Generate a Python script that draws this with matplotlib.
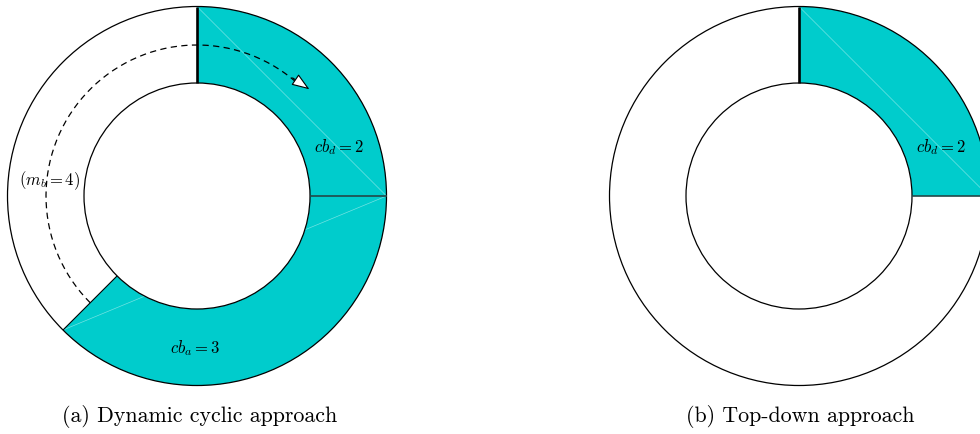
import numpy as np
import matplotlib
matplotlib.use("Agg")
import matplotlib.pyplot as plt
from matplotlib.patches import Wedge, Circle

plt.rcParams['mathtext.fontset'] = 'cm'
plt.rcParams['font.family'] = 'serif'
plt.rcParams['font.serif'] = ['cmr10', 'DejaVu Serif']
plt.rcParams['axes.formatter.use_mathtext'] = True

# ---- data ----
n_segments = 8
left_cb_d = 2
left_cb_a = 3
left_m_b = 4
right_cb_d = 2
captions = ["(a) Dynamic cyclic approach", "(b) Top-down approach"]
left_labels = [r"$cb_d = 2$", r"$cb_a = 3$", r"$(m_b = 4)$"]
right_labels = [r"$cb_d = 2$"]

TEAL = '#00cccc'
R_OUT, R_IN = 189.5, 113.0
seg = 360.0 / n_segments

fig = plt.figure(figsize=(9.8, 4.34), dpi=100)
ax = fig.add_axes([0, 0, 1, 1])
ax.set_xlim(0, 980)
ax.set_ylim(0, 434)
ax.axis('off')


def pt(c, r, a):
    t = np.deg2rad(a)
    return c[0] + r * np.cos(t), c[1] + r * np.sin(t)


def donut(c, blocks):
    # blocks: list of counts, clockwise from top
    ax.add_patch(Circle(c, R_OUT, fc='white', ec='none', zorder=0))
    start = 90.0
    bounds = [start]
    for k in blocks:
        end = start - k * seg
        w = Wedge(c, R_OUT, end, start, width=R_OUT - R_IN, fc=TEAL, ec='none', zorder=1)
        ax.add_patch(w)
        # faint seam (chord) inside filled block
        x1, y1 = pt(c, R_OUT, start)
        x2, y2 = pt(c, R_OUT, end)
        ln, = ax.plot([x1, x2], [y1, y2], color='white', lw=0.5, alpha=0.45, zorder=2)
        ln.set_clip_path(w)
        start = end
        bounds.append(end)
    ax.add_patch(Circle(c, R_OUT, fc='none', ec='black', lw=0.9, zorder=4))
    ax.add_patch(Circle(c, R_IN, fc='white', ec='black', lw=0.9, zorder=4))
    # boundary lines
    for i, b in enumerate(bounds):
        x1, y1 = pt(c, R_IN, b)
        x2, y2 = pt(c, R_OUT, b)
        if i == 0:
            ax.plot([x1, x2], [y1, y2], color='black', lw=1.9, zorder=5, solid_capstyle='butt')
        elif abs(b % 360) < 1e-6:
            ax.plot([x1, x2], [y1, y2], color='#244848', lw=1.2, zorder=5, solid_capstyle='butt')
        else:
            ax.plot([x1, x2], [y1, y2], color='black', lw=0.8, zorder=5, solid_capstyle='butt')
    return bounds


cL = (197.0, 238.0)
cR = (799.0, 238.0)
bL = donut(cL, [left_cb_d, left_cb_a])
bR = donut(cR, [right_cb_d])

# dashed arc for m_b
a0 = bL[-1]
a1 = a0 - left_m_b * seg
r_arc = 151.0
th = np.linspace(a0, a1 + 3, 200)
xs = cL[0] + r_arc * np.cos(np.deg2rad(th))
ys = cL[1] + r_arc * np.sin(np.deg2rad(th))
ax.plot(xs, ys, color='black', lw=0.9, ls=(0, (5, 3.5)), zorder=6)
tail = pt(cL, r_arc + 1, a1 + 6)
tip = pt(cL, r_arc + 4, a1 - 1.5)
ax.annotate('', xy=tip, xytext=tail,
            arrowprops=dict(arrowstyle='-|>,head_length=1.1,head_width=0.4',
                            fc='white', ec='black', lw=0.8, shrinkA=0, shrinkB=0),
            zorder=7)

# labels
ax.text(339, 287, left_labels[0], fontsize=12, ha='center', va='center', zorder=8)
ax.text(195, 86, left_labels[1], fontsize=12, ha='center', va='center', zorder=8)
ax.text(50, 253, left_labels[2], fontsize=12, ha='center', va='center', zorder=8)
ax.text(941, 287, right_labels[0], fontsize=12, ha='center', va='center', zorder=8)

ax.text(200, 17, captions[0], fontsize=15.8, ha='center', va='center')
ax.text(800, 17, captions[1], fontsize=15.8, ha='center', va='center')

fig.savefig('out.png', dpi=100)
